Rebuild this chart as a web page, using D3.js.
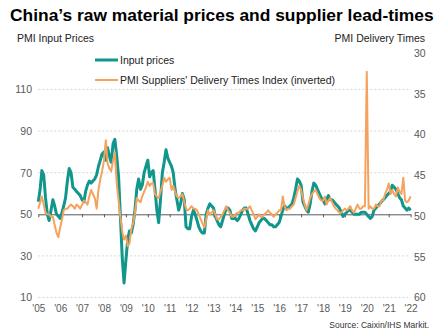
<!DOCTYPE html>
<html>
<head>
<meta charset="utf-8">
<script src="https://cdn.jsdelivr.net/npm/d3@7"></script>
<style>
  body { margin: 0; background: #fff; }
  svg { display: block; font-family: "Liberation Sans", Arial, sans-serif; }
</style>
</head>
<body>
<svg id="chart" width="439" height="335"></svg>
<script>
// monthly, Jan 2005 .. Jan 2022
var startMonth = new Date(2005, 0, 1);

// PMI input prices (left axis), one row per year
var inputPrices = [
  56, 62, 71, 69, 58, 50, 47, 52, 57, 54, 50, 49,   // 2005
  48, 51, 54, 58, 66, 72, 70, 63, 62, 61, 60, 59,   // 2006
  57, 56, 61, 64, 66, 65, 66, 67, 69, 73, 76, 79,   // 2007
  80, 76, 82, 78, 75, 84, 86, 78, 68, 49, 29, 17,   // 2008
  28, 38, 42, 41, 45, 52, 62, 67, 62, 64, 70, 73,   // 2009
  76, 68, 70, 71, 62, 52, 46, 57, 70, 75, 81, 77,   // 2010
  75, 73, 70, 62, 57, 52, 55, 60, 57, 44, 43, 43,   // 2011
  49, 52, 50, 47, 44, 42, 41, 41, 50, 53, 55, 54,   // 2012
  53, 49, 47, 45, 44, 47, 50, 53, 53, 52, 48, 48,   // 2013
  48, 47, 48, 50, 52, 53, 53, 50, 47, 45, 43, 42,   // 2014
  44, 46, 47, 48, 48, 47, 46, 45, 45, 44, 44, 45,   // 2015
  46, 49, 52, 54, 53, 53, 54, 55, 58, 62, 67, 66,   // 2016
  64, 56, 54, 52, 51, 55, 61, 65, 64, 62, 60, 58,   // 2017
  57, 55, 57, 59, 57, 57, 56, 55, 54, 53, 51, 49,   // 2018
  50, 51, 52, 52, 51, 50, 50, 50, 50, 51, 51, 51,   // 2019
  50, 49, 48, 49, 52, 53, 54, 55, 56, 57, 58, 59,   // 2020
  60, 61, 64, 63, 62, 60, 58, 57, 54, 53, 52, 53,   // 2021
  52                                                // 2022
];

// PMI suppliers' delivery times index (right axis, inverted)
var deliveryTimes = [
  49.1, 48.3, 47.6, 48.6, 49.6, 49.8, 49.8, 50.1, 50.1, 51.1, 52.1, 52.6,
  51.4, 50.4, 49.3, 49.1, 49.1, 48.8, 48.6, 48.8, 49.1, 48.6, 48.8, 49.1,
  48.6, 48.1, 48.3, 48.6, 47.6, 46.8, 47.3, 47.8, 49.1, 46.8, 45.5, 44.5,
  43.2, 40.7, 43.5, 44.2, 44.5, 43.2, 42.2, 46.0, 48.1, 50.1, 51.9, 52.9,
  52.4, 53.7, 53.4, 51.6, 50.9, 49.6, 47.8, 48.1, 48.3, 47.6, 47.0, 46.5,
  45.8, 46.3, 46.0, 46.0, 47.3, 47.6, 47.8, 47.0, 46.3, 45.3, 45.8, 45.5,
  45.3, 46.8, 46.3, 47.0, 47.6, 47.8, 47.6, 47.3, 48.3, 49.1, 49.3, 49.1,
  48.8, 49.1, 49.1, 49.3, 49.8, 50.4, 50.9, 51.4, 50.4, 49.3, 49.8, 49.6,
  49.3, 49.8, 50.4, 50.4, 50.1, 49.8, 49.3, 48.8, 49.3, 49.6, 50.1, 50.1,
  49.8, 49.6, 49.6, 49.3, 49.3, 49.1, 49.1, 49.1, 48.8, 49.3, 49.8, 50.4,
  50.1, 49.8, 50.1, 50.1, 49.8, 49.6, 49.3, 49.6, 49.8, 50.1, 49.8, 49.6,
  49.3, 49.3, 47.6, 48.8, 49.3, 49.1, 49.1, 48.8, 48.6, 47.8, 47.0, 46.3,
  46.8, 47.8, 48.6, 49.3, 48.6, 47.8, 47.3, 47.0, 46.8, 47.3, 47.8, 48.1,
  48.1, 47.6, 48.6, 48.1, 47.8, 48.3, 48.8, 49.1, 49.3, 49.6, 49.6, 49.3,
  49.1, 49.3, 49.1, 48.8, 49.3, 49.6, 49.1, 48.6, 49.1, 49.1, 48.8, 48.8,
  32.3, 49.1, 48.8, 49.1, 49.1, 48.6, 48.8, 48.8, 48.1, 48.1, 47.3, 46.8,
  46.0, 47.3, 46.8, 47.3, 47.6, 46.5, 47.0, 47.3, 45.3, 48.1, 48.3, 48.1,
  47.6
];

var leftTicks = [10, 30, 50, 70, 90, 110];
var rightTicks = [30, 35, 40, 45, 50, 55, 60];
var seriesNames = ["Input prices", "PMI Suppliers' Delivery Times Index (inverted)"];
var colorGreen = "#10968a";
var colorOrange = "#f5a25e";

var svg = d3.select("#chart");

var x = d3.scaleTime()
  .domain([new Date(2005, 0, 1), new Date(2022, 0, 1)])
  .range([38.3, 410.6]);
var yLeft = d3.scaleLinear().domain([10, 130]).range([297.5, 47.9]);
var yRight = d3.scaleLinear().domain([60, 30]).range([297.5, 53]);

var dataIn = inputPrices.map(function (v, i) { return { date: d3.timeMonth.offset(startMonth, i), value: v }; });
var dataDel = deliveryTimes.map(function (v, i) { return { date: d3.timeMonth.offset(startMonth, i), value: v }; });

// title + axis captions
svg.append("text").attr("x", 10).attr("y", 21)
  .style("font-size", "17.4px").style("font-weight", "bold").style("fill", "#000")
  .text("China\u2019s raw material prices and supplier lead-times");
svg.append("text").attr("x", 17).attr("y", 42)
  .style("font-size", "10.5px").style("fill", "#222").text("PMI Input Prices");
svg.append("text").attr("x", 425).attr("y", 42).attr("text-anchor", "end")
  .style("font-size", "10.5px").style("fill", "#222").text("PMI Delivery Times");

// gridlines (dotted), 50 handled by the x axis line
svg.append("g").selectAll("line")
  .data(leftTicks.filter(function (d) { return d !== 50; }))
  .join("line")
  .attr("x1", x.range()[0]).attr("x2", x.range()[1])
  .attr("y1", function (d) { return yLeft(d); })
  .attr("y2", function (d) { return yLeft(d); })
  .style("stroke", "#d6d6d6").style("stroke-width", 1)
  .style("stroke-dasharray", "2,2");

// left axis labels
var gLeft = svg.append("g").attr("transform", "translate(38,0)")
  .call(d3.axisLeft(yLeft).tickValues(leftTicks).tickSize(0).tickPadding(6));
gLeft.select(".domain").remove();
gLeft.selectAll("text").style("font-size", "10.5px").style("fill", "#595959")
  .style("font-family", "Liberation Sans, Arial, sans-serif");

// right axis labels
var gRight = svg.append("g").attr("transform", "translate(410,0)")
  .call(d3.axisRight(yRight).tickValues(rightTicks).tickSize(0).tickPadding(4));
gRight.select(".domain").remove();
gRight.selectAll("text").style("font-size", "10.5px").style("fill", "#595959")
  .style("font-family", "Liberation Sans, Arial, sans-serif");

// x axis crosses at 50
var gX = svg.append("g").attr("transform", "translate(0," + yLeft(50) + ")")
  .call(d3.axisBottom(x).ticks(d3.timeYear.every(1)).tickFormat(d3.timeFormat("'%y")).tickSize(3).tickSizeOuter(0));
gX.select(".domain").style("stroke", "#595959");
gX.selectAll(".tick line").style("stroke", "#595959");
gX.selectAll("text").attr("y", 0)
  .attr("transform", "translate(0," + (yLeft(10) - yLeft(50) + 7) + ")")
  .style("font-size", "10px").style("fill", "#595959")
  .style("font-family", "Liberation Sans, Arial, sans-serif");

// series
var lineIn = d3.line().x(function (d) { return x(d.date); }).y(function (d) { return yLeft(d.value); });
var lineDel = d3.line().x(function (d) { return x(d.date); }).y(function (d) { return yRight(d.value); });

svg.append("path").datum(dataIn).attr("d", lineIn)
  .style("fill", "none").style("stroke", colorGreen).style("stroke-width", 3)
  .style("stroke-linejoin", "round");
svg.append("path").datum(dataDel).attr("d", lineDel)
  .style("fill", "none").style("stroke", colorOrange).style("stroke-width", 2)
  .style("stroke-linejoin", "round");

// legend
var legend = svg.append("g").selectAll("g")
  .data(seriesNames)
  .join("g")
  .attr("transform", function (d, i) { return "translate(95," + (60 + i * 20) + ")"; });
legend.append("line").attr("x1", 0).attr("x2", 23).attr("y1", 0).attr("y2", 0)
  .style("stroke", function (d, i) { return i === 0 ? colorGreen : colorOrange; })
  .style("stroke-width", function (d, i) { return i === 0 ? 3 : 2; });
legend.append("text").attr("x", 25).attr("y", 4)
  .style("font-size", "10.5px").style("fill", "#222").text(function (d) { return d; });

// source
svg.append("text").attr("x", 429).attr("y", 328).attr("text-anchor", "end")
  .style("font-size", "8.5px").style("fill", "#333").text("Source: Caixin/IHS Markit.");
</script>
</body>
</html>
